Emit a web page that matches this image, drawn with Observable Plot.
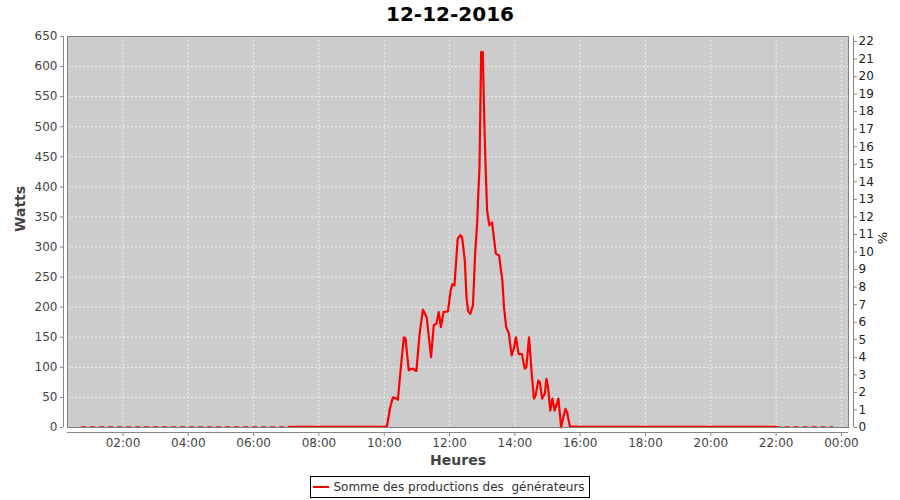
<!DOCTYPE html>
<html>
<head>
<meta charset="utf-8">
<script src="https://cdn.jsdelivr.net/npm/d3@7"></script>
<script src="https://cdn.jsdelivr.net/npm/@observablehq/plot@0.6"></script>
<style>
  html, body { margin: 0; padding: 0; background: white; }
  body { width: 900px; height: 500px; overflow: hidden; font-family: "DejaVu Sans", sans-serif; }
  #title { height: 28px; line-height: 28px; text-align: center; font-weight: bold; font-size: 20px; color: #000; }
  #chart svg { display: block; }
  #legendWrap { text-align: center; margin-top: 4px; }
  #legend { display: inline-flex; align-items: center; border: 1px solid #000; height: 20px; padding: 0 4px 0 2px; font-size: 12px; color: #333; white-space: pre; }
  #legend svg { margin-right: 4px; }
</style>
</head>
<body>
<div id="title">12-12-2016</div>
<div id="chart"></div>
<div id="legendWrap"><div id="legend"><svg width="16" height="8"><line x1="0" y1="4" x2="16" y2="4" stroke="#ff0000" stroke-width="2"/><rect x="7" y="3" width="2" height="2" fill="#c00000"/></svg><span>Somme des productions des  générateurs</span></div></div>
<script>
const day = "2016-12-12";
const seriesName = "Somme des productions des  générateurs";

// quiet night hours (sparse samples)
const morningTimes = ["00:44","01:30","02:30","03:30","04:30","05:30","06:30","07:05"];
const morningWatts = [1,1,1,1,1,1,1,1];

// production period
const prodTimes = ["07:05","08:00","09:00","10:00","10:05","10:11","10:16","10:23","10:25","10:30","10:36","10:39","10:45","10:51","10:59",
  "11:05","11:11","11:18","11:22","11:26","11:31","11:36","11:40","11:44","11:49","11:57",
  "12:02","12:05","12:09","12:15","12:20","12:23","12:28","12:31","12:34","12:38","12:43","12:47","12:51","12:52","12:55","12:58",
  "13:01","13:04","13:06","13:09","13:13","13:18","13:25","13:31","13:37","13:40","13:44","13:49","13:54","13:58",
  "14:02","14:07","14:13","14:18","14:21","14:26","14:31","14:35","14:38","14:43","14:46","14:50","14:55","14:58",
  "15:01","15:05","15:09","15:13","15:20","15:25","15:29","15:33","15:36","15:41","16:00","18:00","20:00","22:00"];
const prodWatts = [1,1,1,1,2,34,50,48,46,95,150,148,95,98,94,
  156,196,183,150,117,170,173,192,167,192,193,
  228,238,236,314,320,316,278,217,194,189,203,289,344,372,433,624,
  624,505,439,361,336,341,289,286,244,200,167,156,120,131,
  150,122,122,98,100,150,89,48,53,78,75,48,56,81,
  67,28,48,28,48,0,17,31,25,2,1,1,1,1];

// quiet evening hours (sparse samples)
const eveningTimes = ["22:00","22:30","23:00","23:44"];
const eveningWatts = [1,1,1,1];

// axes
const wattTicks = [0,50,100,150,200,250,300,350,400,450,500,550,600,650];
const pctTicks = [0,1,2,3,4,5,6,7,8,9,10,11,12,13,14,15,16,17,18,19,20,21,22];
const wattsPerPct = 29.17;
const hourTicks = ["2016-12-12 02:00","2016-12-12 04:00","2016-12-12 06:00","2016-12-12 08:00","2016-12-12 10:00","2016-12-12 12:00",
  "2016-12-12 14:00","2016-12-12 16:00","2016-12-12 18:00","2016-12-12 20:00","2016-12-12 22:00","2016-12-13 00:00"];
const xDomain = ["2016-12-12 00:18","2016-12-13 00:13"];

const parse = d3.utcParse("%Y-%m-%d %H:%M");
const toRows = (ts, ws) => ts.map((t, i) => ({time: parse(day + " " + t), w: ws[i]}));
const prod = toRows(prodTimes, prodWatts);
const quiet = [...toRows(morningTimes, morningWatts).map(d => ({...d, seg: "am"})),
               ...toRows(eveningTimes, eveningWatts).map(d => ({...d, seg: "pm"}))];
const xTicks = hourTicks.map(parse);
const xd = xDomain.map(parse);

const plot = Plot.plot({
  width: 900,
  height: 444,
  marginTop: 8,
  marginBottom: 45,
  marginLeft: 67,
  marginRight: 52,
  style: {fontFamily: "DejaVu Sans", fontSize: "12px", color: "#444", background: "white", overflow: "visible"},
  x: {type: "utc", domain: xd},
  y: {domain: [0, 650]},
  marks: [
    Plot.frame({fill: "#cccccc", stroke: "none"}),
    Plot.gridX(xTicks, {stroke: "white", strokeOpacity: 0.9, strokeDasharray: "2,2", strokeWidth: 0.7}),
    Plot.gridY(wattTicks, {stroke: "white", strokeOpacity: 0.9, strokeDasharray: "2,2", strokeWidth: 0.7}),
    Plot.line(quiet, {x: "time", y: "w", z: "seg", stroke: "#ff0000", strokeWidth: 1.5, strokeDasharray: "4,5"}),
    Plot.line(prod, {x: "time", y: "w", stroke: "#ff0000", strokeWidth: 2.2, strokeLinejoin: "round"}),
    Plot.frame({stroke: "#808080", strokeWidth: 1}),
    Plot.ruleX([xd[0]], {dx: -4, stroke: "#888"}),
    Plot.ruleX([xd[1]], {dx: 5, stroke: "#888"}),
    Plot.ruleY([0], {dy: 5, stroke: "#888"}),
    Plot.axisY(wattTicks, {anchor: "left", dx: -4, tickSize: 3, tickPadding: 3, label: null, stroke: "#888", fill: "#444"}),
    Plot.axisY(pctTicks.map(p => p * wattsPerPct), {anchor: "right", dx: 5, tickSize: 3, tickPadding: 2, label: null,
      tickFormat: v => String(Math.round(v / wattsPerPct)), stroke: "#888", fill: "#222"}),
    Plot.axisX(xTicks, {anchor: "bottom", dy: 5, tickSize: 4, tickPadding: 2, label: null,
      tickFormat: d3.utcFormat("%H:%M"), stroke: "#888", fill: "#444"}),
    Plot.text(["Heures"], {frameAnchor: "bottom", dy: 37, text: d => d, fontWeight: "bold", fontSize: 14, fill: "#444"}),
    Plot.text(["Watts"], {frameAnchor: "left", dx: -47, rotate: -90, text: d => d, fontWeight: "bold", fontSize: 14, fill: "#444"}),
    Plot.text(["%"], {frameAnchor: "right", dx: 34, rotate: -90, text: d => d, fontSize: 13, fill: "#222"})
  ]
});
document.getElementById("chart").appendChild(plot);
</script>
</body>
</html>
